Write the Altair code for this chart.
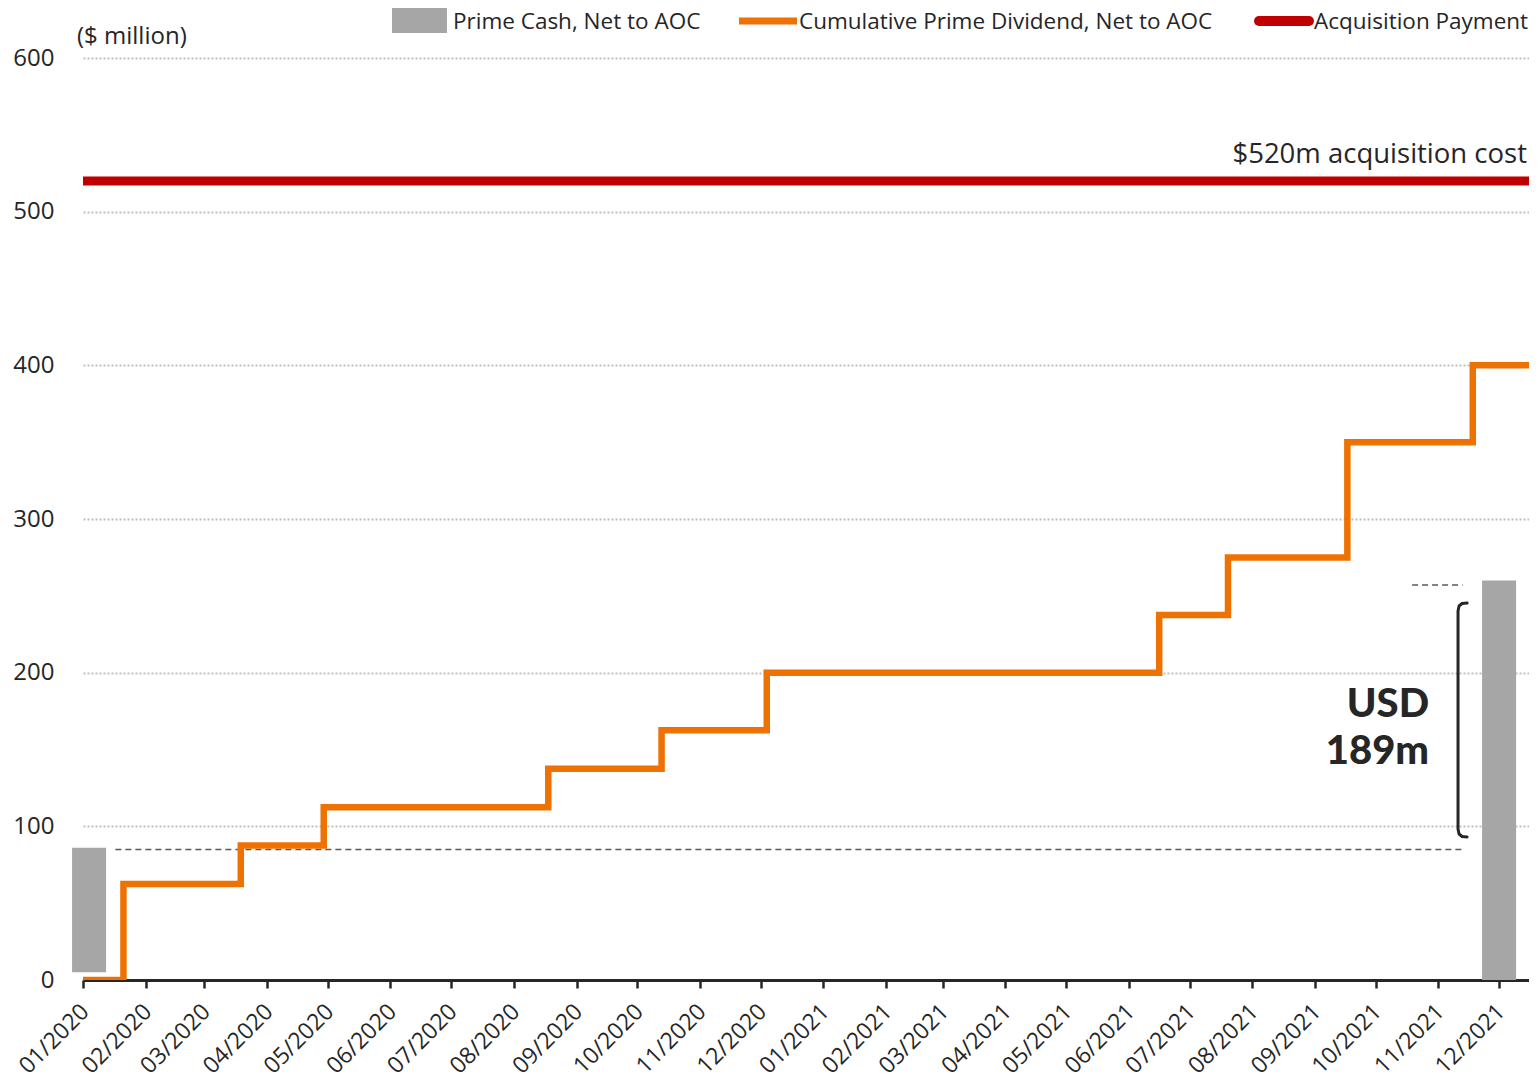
import altair as alt
import pandas as pd

# ---------------- data ----------------
# Cumulative Prime Dividend, Net to AOC (step line, $ million)
div_dates = ["2020-01-01", "2020-01-21", "2020-03-19", "2020-04-29", "2020-08-18",
             "2020-10-13", "2020-12-04", "2021-06-16", "2021-07-20", "2021-09-17",
             "2021-11-18", "2021-12-31"]
div_values = [0, 62.5, 87.5, 112.5, 137.5, 162.5, 200, 237.5, 275, 350, 400, 400]

# Prime Cash, Net to AOC (bars)
cash_dates = ["2020-01-04", "2021-12-01"]
cash_low = [5, 0]
cash_high = [86, 260]

# Acquisition payment
acq_value = [520]

# reference (dashed) levels
gap_start = ["2020-01-17", "2021-10-19"]
gap_end = ["2021-11-14", "2021-11-13"]
gap_level = [85, 257]

# bracket showing the USD 189m gap
bracket_dates = ["2021-11-15T05:00Z", "2021-11-12T17:00Z", "2021-11-11T05:00Z", "2021-11-10T17:00Z",
                 "2021-11-10T17:00Z", "2021-11-11T05:00Z", "2021-11-12T17:00Z", "2021-11-15T05:00Z"]
bracket_values = [245.3, 245.0, 243.4, 240.1, 98.3, 95.0, 93.4, 93.1]

gap_label = ["USD", "189m"]
gap_label_date = ["2021-10-27T10:00Z"]
gap_label_value = [171]

acq_label = "$520m acquisition cost"
acq_label_value = [531.5]

legend_labels = ["Prime Cash, Net to AOC", "Cumulative Prime Dividend, Net to AOC", "Acquisition Payment"]

y_ticks = [0, 100, 200, 300, 400, 500, 600]
month_ticks = [alt.DateTime(year=y, month=m, date=1, utc=True) for y in (2020, 2021) for m in range(1, 13)]

# ---------------- style ----------------
FONT = "Open Sans"
TXT = "#262626"
ORANGE = "#EE7203"
RED = "#C00000"
GRAY = "#A6A6A6"

W, H = 1446, 922

xscale = alt.Scale(type="utc", padding=0,
                   domain=[alt.DateTime(year=2020, month=1, date=1, utc=True),
                           alt.DateTime(year=2021, month=12, date=15, hours=19, utc=True)])
yscale = alt.Scale(domain=[0, 600], nice=False, zero=True)

xaxis = alt.Axis(values=month_ticks, format="%m/%Y", title=None, grid=False,
                 labelAngle=-45, labelAlign="right", labelBaseline="top",
                 labelFont=FONT, labelFontSize=23, labelColor=TXT, labelPadding=12, labelOffset=-6,
                 domainColor=TXT, domainWidth=3, tickColor=TXT, tickWidth=2.5, tickSize=8,
                 labelOverlap=False, labelFlush=False)
yaxis = alt.Axis(values=y_ticks, title=None, domain=False, ticks=False, labelPadding=29,
                 labelFont=FONT, labelFontSize=24, labelColor=TXT,
                 grid=True, gridDash=[2, 2], gridColor="#BFBFBF", gridWidth=2)

div_df = pd.DataFrame({"date": div_dates, "value": div_values})
cash_df = pd.DataFrame({"date": cash_dates, "low": cash_low, "high": cash_high})
acq_df = pd.DataFrame({"value": acq_value})
gap_df = pd.DataFrame({"start": gap_start, "end": gap_end, "level": gap_level})
br_df = pd.DataFrame({"date": bracket_dates, "value": bracket_values,
                      "order": list(range(len(bracket_values)))})
gl_df = pd.DataFrame({"date": gap_label_date, "value": gap_label_value})
al_df = pd.DataFrame({"value": acq_label_value})
one = pd.DataFrame({"a": [0]})

bars = alt.Chart(cash_df).mark_bar(color=GRAY, size=34).encode(
    x=alt.X("date:T", scale=xscale, axis=xaxis),
    y=alt.Y("low:Q", scale=yscale, axis=yaxis),
    y2="high:Q",
)

dashed = alt.Chart(gap_df).mark_rule(color="#595959", strokeWidth=1.5, strokeDash=[6, 4]).encode(
    x=alt.X("start:T", scale=xscale),
    x2="end:T",
    y=alt.Y("level:Q", scale=yscale),
)

acq = alt.Chart(acq_df).mark_rule(color=RED, strokeWidth=9).encode(
    y=alt.Y("value:Q", scale=yscale),
)

step = alt.Chart(div_df).mark_line(color=ORANGE, strokeWidth=6.5, interpolate="step-after",
                                   clip=True, strokeJoin="miter").encode(
    x=alt.X("date:T", scale=xscale),
    y=alt.Y("value:Q", scale=yscale),
)

bracket = alt.Chart(br_df).mark_line(color=TXT, strokeWidth=3, strokeCap="round",
                                     strokeJoin="round").encode(
    x=alt.X("date:T", scale=xscale),
    y=alt.Y("value:Q", scale=yscale),
    order="order:Q",
)

gap_text = alt.Chart(gl_df).mark_text(text=gap_label, font="Lato Black, Lato, sans-serif",
                                      fontWeight=900, fontSize=40,
                                      lineHeight=47, align="right", baseline="alphabetic",
                                      color=TXT).encode(
    x=alt.X("date:T", scale=xscale),
    y=alt.Y("value:Q", scale=yscale),
)

acq_text = alt.Chart(al_df).mark_text(text=acq_label, font=FONT, fontSize=27.5, align="right",
                                      baseline="alphabetic", color=TXT).encode(
    x=alt.value(W - 2),
    y=alt.Y("value:Q", scale=yscale),
)

unit_text = alt.Chart(one).mark_text(text="($ million)", font=FONT, fontSize=24, align="left",
                                     baseline="alphabetic", color=TXT).encode(
    x=alt.value(-6), y=alt.value(-14))

# manual legend
leg_rect = alt.Chart(one).mark_rect(color=GRAY).encode(
    x=alt.value(309), x2=alt.value(364), y=alt.value(-52), y2=alt.value(-25))
leg_orange = alt.Chart(one).mark_rule(color=ORANGE, strokeWidth=7).encode(
    x=alt.value(656), x2=alt.value(714), y=alt.value(-37))
leg_red = alt.Chart(one).mark_rule(color=RED, strokeWidth=10, strokeCap="round").encode(
    x=alt.value(1176), x2=alt.value(1226), y=alt.value(-37))
leg_t1 = alt.Chart(one).mark_text(text=legend_labels[0], font=FONT, fontSize=22.5, align="left",
                                  baseline="alphabetic", color=TXT).encode(
    x=alt.value(370), y=alt.value(-29))
leg_t2 = alt.Chart(one).mark_text(text=legend_labels[1], font=FONT, fontSize=22.5, align="left",
                                  baseline="alphabetic", color=TXT).encode(
    x=alt.value(716), y=alt.value(-29))
leg_t3 = alt.Chart(one).mark_text(text=legend_labels[2], font=FONT, fontSize=22.5, align="left",
                                  baseline="alphabetic", color=TXT).encode(
    x=alt.value(1231), y=alt.value(-29))

chart = alt.layer(
    bars, dashed, acq, step, bracket, gap_text, acq_text, unit_text,
    leg_rect, leg_orange, leg_red, leg_t1, leg_t2, leg_t3,
).properties(
    width=W, height=H,
    autosize=alt.AutoSizeParams(type="none"),
    padding={"left": 75, "top": 50, "right": 0, "bottom": 98},
    background="white",
).configure_view(stroke=None)

chart.save("out.html", embed_options={"renderer": "svg", "actions": False})
